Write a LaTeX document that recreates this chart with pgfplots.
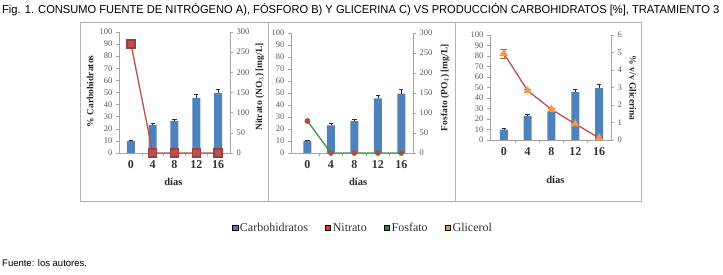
\documentclass[border=0pt]{standalone}
\usepackage{fontspec}
\setmainfont{Liberation Serif}
\newfontfamily\arial{Liberation Sans}
\usepackage{pgfplots}
\pgfplotsset{compat=1.18}
\usepackage{graphicx}

\definecolor{cbar}{HTML}{4F81BD}
\definecolor{cnit}{HTML}{C0504D}
\definecolor{cfos}{HTML}{3A9A48}
\definecolor{cfosm}{HTML}{B0503A}
\definecolor{cgli}{HTML}{F79646}
\definecolor{cgliline}{HTML}{C0504D}
\definecolor{legred}{HTML}{E8322B}
\definecolor{leggreen}{HTML}{2F8A4A}
\definecolor{axgray}{HTML}{A6A6A6}
\definecolor{tickc}{HTML}{595959}
\definecolor{errc}{HTML}{1F2F4F}

\pgfplotsset{
  base/.style={
    scale only axis, clip=false,
    xmin=-0.55, xmax=4.55,
    axis line style={-, axgray, line width=0.6pt},
    tick align=outside, major tick length=3pt,
    ytick style={axgray, line width=0.5pt},
    y tick label style={font=\fontsize{8.5}{9}\selectfont, text=tickc},
    /pgf/number format/assume math mode=true,
  },
  leftax/.style={base,
    ymin=0, ymax=100, ytick={0,10,...,100},
    axis x line*=bottom, axis y line*=left,
    xtick={0,...,4}, xticklabels={0,4,8,12,16},
    minor xtick={0.5,1.5,2.5,3.5}, minor tick length=2.5pt,
    minor x tick style={axgray, line width=0.5pt},
    major x tick style={draw=none},
    x tick label style={font=\fontsize{12}{13}\selectfont\bfseries, text=black!80, yshift=-1pt},
    xlabel={días}, xlabel style={font=\fontsize{10.5}{12}\selectfont\bfseries, text=black!85},
    ylabel style={font=\fontsize{9.5}{11}\selectfont\bfseries, text=black!85},
  },
  rightax/.style={base,
    axis x line=none, axis y line*=right,
    ylabel style={font=\fontsize{9.5}{11}\selectfont\bfseries, text=black!85},
  },
  bars/.style={ybar, bar width=8pt, fill=cbar, draw=none,
    error bars/y dir=plus, error bars/y explicit,
    error bars/error bar style={errc, line width=0.6pt},
    error bars/error mark options={errc, rotate=90, mark size=2.2pt, line width=0.6pt}},
}

\pgfplotstableread{
x  c     e
0  10    0.8
1  23    1.5
2  26.5  1.5
3  45.5  3
4  49.5  3.2
}\carb

\pgfplotstableread{
x  n    e
0  270  5
1  0    0
2  0    0
3  0    0
4  0    0
}\nit

\pgfplotstableread{
x  f
0  80
1  0
2  0
3  0
4  0
}\fos

\pgfplotstableread{
x  g     e
0  4.95  0.25
1  2.82  0.1
2  1.75  0.05
3  0.92  0.05
4  0.12  0.02
}\gli

\begin{document}
\begin{tikzpicture}
\path[use as bounding box] (0pt,0pt) rectangle (723pt,274pt);

% title and source
\node[anchor=base west, inner sep=0pt] at (2pt,260.5pt)
  {\resizebox{717pt}{\height}{\arial\fontsize{11.5}{13}\selectfont Fig. 1. CONSUMO FUENTE DE NITRÓGENO A), FÓSFORO B) Y GLICERINA C) VS PRODUCCIÓN CARBOHIDRATOS [\%], TRATAMIENTO 3}};
\node[anchor=base west, inner sep=0pt] at (2pt,8pt)
  {\arial\fontsize{9.5}{11}\selectfont Fuente: los autores.};

% panel frames
\draw[axgray!85, line width=1pt] (80pt,73pt) rectangle (268pt,252pt);
\draw[axgray!85, line width=1pt] (268pt,73pt) rectangle (455pt,252pt);
\draw[axgray!85, line width=1pt] (455pt,73pt) rectangle (641pt,252pt);

% ---------- Panel A ----------
\begin{axis}[leftax, at={(119pt,121pt)}, anchor=south west, width=111pt, height=121pt,
  ylabel={\% Carbohidratos},
  ylabel style={at={(axis description cs:-0.26,0.51)}, anchor=center},
  xlabel style={at={(axis description cs:0.49,-0.24)}, anchor=center}]
\addplot[bars] table[x=x, y=c, y error=e] {\carb};
\end{axis}
\begin{axis}[rightax, at={(119pt,121pt)}, anchor=south west, width=111pt, height=121pt,
  ymin=0, ymax=300, ytick={0,50,...,300},
  ylabel={Nitrato (NO$_3$) [mg/L]},
  ylabel style={at={(axis description cs:1.27,0.545)}, anchor=center}]
\addplot[cnit, line width=1.3pt, mark=square*, mark size=4pt, mark options={fill=cnit, draw=cnit!80!black},
  error bars/y dir=both, error bars/y explicit, error bars/error bar style={errc, line width=0.6pt}]
  table[x=x, y=n, y error=e] {\nit};
\end{axis}

% ---------- Panel B ----------
\begin{axis}[leftax, at={(291pt,121pt)}, anchor=south west, width=122pt, height=120pt,
  xmin=-0.7, xmax=4.5,
  xlabel style={at={(axis description cs:0.55,-0.24)}, anchor=center},
  legend style={at={(axis description cs:0.59,-0.625)}, anchor=center, draw=none, fill=none,
    legend columns=4, font=\fontsize{12}{13}\selectfont, text=black!80,
    /tikz/every even column/.append style={column sep=15pt}},
  legend image code/.code={\fill[#1] (0pt,-2.5pt) rectangle (5.5pt,3pt);}]
\addplot[forget plot, bars] table[x=x, y=c, y error=e] {\carb};
\addlegendimage{fill=cbar}
\addlegendentry{Carbohidratos}
\addlegendimage{fill=legred}
\addlegendentry{Nitrato}
\addlegendimage{fill=leggreen}
\addlegendentry{Fosfato}
\addlegendimage{fill=cgli}
\addlegendentry{Glicerol}
\end{axis}
\begin{axis}[rightax, at={(291pt,121pt)}, anchor=south west, width=122pt, height=120pt,
  xmin=-0.7, xmax=4.5,
  ymin=0, ymax=300, ytick={0,50,...,300},
  ylabel={Fosfato (PO$_4$) [mg/L]},
  ylabel style={at={(axis description cs:1.262,0.545)}, anchor=center}]
\addplot[cfos, line width=1.3pt, mark=*, mark size=2.2pt, mark options={fill=cfosm, draw=cfosm}]
  table[x=x, y=f] {\fos};
\end{axis}

% ---------- Panel C ----------
\begin{axis}[leftax, at={(490pt,134pt)}, anchor=south west, width=121pt, height=105pt,
  xmin=-0.58, xmax=4.5,
  xlabel style={at={(axis description cs:0.54,-0.38)}, anchor=center}]
\addplot[bars] table[x=x, y=c, y error=e] {\carb};
\end{axis}
\begin{axis}[rightax, at={(490pt,134pt)}, anchor=south west, width=121pt, height=105pt,
  xmin=-0.58, xmax=4.5,
  ymin=0, ymax=6, ytick={0,1,...,6},
  ylabel={\% v/v Glicerina},
  ylabel style={at={(axis description cs:1.18,0.495)}, anchor=center, rotate=180}]
\addplot[cgliline, line width=1.3pt, mark=triangle*, mark size=3.5pt, mark options={fill=cgli, draw=cgli},
  error bars/y dir=both, error bars/y explicit, error bars/error bar style={cgli!70!black, line width=0.6pt}]
  table[x=x, y=g, y error=e] {\gli};
\end{axis}
\end{tikzpicture}
\end{document}
